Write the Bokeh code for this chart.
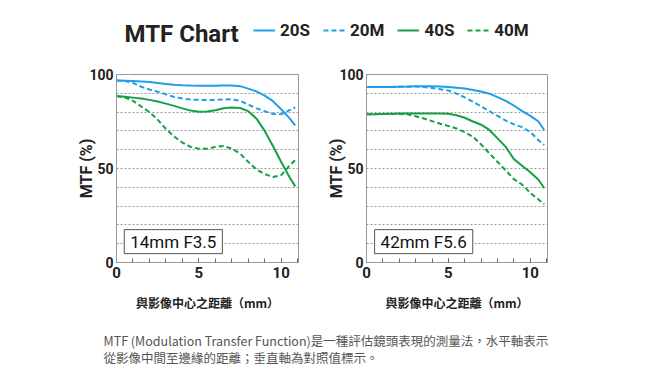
from bokeh.plotting import figure
from bokeh.models import (Range1d, FixedTicker, SingleIntervalTicker, Label,
                          Legend, LegendItem, ColumnDataSource)
from bokeh.layouts import column, row
from bokeh.embed import file_html
from bokeh.resources import INLINE

# ---------------- data ----------------
xs = [0, 0.5, 1, 1.5, 2, 2.5, 3, 3.5, 4, 4.5, 5, 5.5, 6, 6.5, 7, 7.5, 8, 8.5,
      9, 9.5, 10, 10.5, 10.85]

# 14mm F3.5
w_20s = [96.8, 96.7, 96.5, 96.3, 96.0, 95.5, 95.0, 94.6, 94.3, 94.1, 94.0, 94.0,
         94.0, 94.1, 94.2, 93.8, 92.5, 91.0, 88.8, 85.8, 81.5, 76.8, 73.0]
w_20m = [96.8, 96.5, 95.5, 93.5, 92.0, 90.8, 89.5, 88.0, 87.2, 86.7, 86.5, 86.4,
         86.5, 86.7, 86.8, 86.0, 84.0, 82.0, 80.5, 79.0, 78.8, 81.0, 82.5]
w_40s = [88.5, 88.2, 87.7, 87.2, 86.5, 85.6, 84.5, 83.3, 82.0, 80.8, 80.2, 80.3,
         81.0, 82.0, 82.4, 82.2, 80.5, 76.5, 70.0, 62.0, 53.5, 45.5, 40.5]
w_40m = [88.5, 87.8, 86.0, 83.0, 80.0, 76.0, 71.0, 67.0, 63.8, 61.5, 60.5, 60.5,
         61.5, 62.0, 60.5, 58.0, 53.5, 49.5, 47.0, 45.5, 46.5, 51.5, 54.5]

# 42mm F5.6
t_20s = [93.4, 93.4, 93.4, 93.4, 93.5, 93.6, 93.8, 93.8, 93.8, 93.6, 93.4, 93.0,
         92.5, 91.8, 91.0, 89.8, 88.0, 86.0, 83.5, 80.5, 78.0, 75.0, 70.5]
t_20m = [93.4, 93.4, 93.4, 93.4, 93.5, 93.5, 93.6, 93.3, 92.8, 92.2, 91.5, 89.8,
         87.8, 85.5, 83.0, 80.5, 78.0, 75.5, 73.5, 72.0, 69.5, 65.0, 62.5]
t_40s = [78.8, 78.9, 79.0, 79.1, 79.2, 79.3, 79.3, 79.3, 79.3, 79.2, 79.1, 78.3,
         77.0, 75.0, 73.3, 70.5, 66.0, 61.5, 55.0, 51.5, 48.0, 44.0, 39.5]
t_40m = [78.8, 78.9, 79.0, 79.0, 79.0, 78.8, 77.8, 76.6, 75.2, 73.8, 72.6, 71.3,
         69.3, 66.9, 62.8, 58.1, 53.5, 49.0, 44.3, 41.5, 37.0, 33.5, 31.0]

series_names = ["20S", "20M", "40S", "40M"]
lens_labels = ["14mm F3.5", "42mm F5.6"]
y_ticks = [0, 50, 100]
grid_ticks = [10, 20, 30, 40, 50, 60, 70, 80, 90]

title_text = "MTF Chart"
x_title = "與影像中心之距離（mm）"
y_title = "MTF (%)"
note_lines = ["MTF (Modulation Transfer Function)是一種評估鏡頭表現的測量法，水平軸表示",
              "從影像中間至邊緣的距離；垂直軸為對照值標示。"]

BLUE = "#1fa0e6"
GREEN = "#16a046"
DASH = "5 3"
styles = [(BLUE, "solid"), (BLUE, DASH), (GREEN, "solid"), (GREEN, DASH)]
GRAY = "#999999"
DARK = "#222222"


def make_panel(width, left, right, series, lens_label, label_x):
    p = figure(width=width, height=257, x_range=Range1d(0, 11.05),
               y_range=Range1d(0, 100), output_backend="svg",
               toolbar_location=None, min_border_left=left,
               min_border_right=right, min_border_top=11, min_border_bottom=58)
    p.outline_line_color = GRAY
    p.background_fill_color = "white"
    p.xgrid.visible = False
    p.ygrid.ticker = FixedTicker(ticks=grid_ticks)
    p.ygrid.grid_line_color = GRAY
    p.ygrid.grid_line_dash = "2 2"
    p.ygrid.grid_line_width = 1

    xa = p.xaxis[0]
    xa.ticker = SingleIntervalTicker(interval=5, num_minor_ticks=5)
    xa.axis_line_color = GRAY
    xa.major_tick_in = 4
    xa.major_tick_out = 0
    xa.minor_tick_in = 4
    xa.minor_tick_out = 0
    xa.major_tick_line_color = "#666666"
    xa.minor_tick_line_color = "#666666"
    xa.major_label_text_font = "Roboto"
    xa.major_label_text_font_style = "bold"
    xa.major_label_text_font_size = "15px"
    xa.major_label_text_color = DARK
    xa.major_label_standoff = 4
    xa.axis_label = x_title
    xa.axis_label_text_font = "Noto Sans CJK TC"
    xa.axis_label_text_font_style = "bold"
    xa.axis_label_text_font_size = "12px"
    xa.axis_label_text_color = DARK
    xa.axis_label_standoff = 13

    ya = p.yaxis[0]
    ya.ticker = FixedTicker(ticks=y_ticks)
    ya.axis_line_color = GRAY
    ya.major_tick_in = 0
    ya.major_tick_out = 0
    ya.minor_tick_in = 0
    ya.minor_tick_out = 0
    ya.major_label_text_font = "Roboto"
    ya.major_label_text_font_style = "bold"
    ya.major_label_text_font_size = "14px"
    ya.major_label_text_color = DARK
    ya.major_label_standoff = 3
    ya.axis_label = y_title
    ya.axis_label_text_font = "Roboto"
    ya.axis_label_text_font_style = "bold"
    ya.axis_label_text_font_size = "16px"
    ya.axis_label_text_color = DARK
    ya.axis_label_standoff = -10

    for ys, (c, d) in zip(series, styles):
        p.line(xs, ys, line_color=c, line_dash=d, line_width=2)

    p.add_layout(Label(x=label_x, y=11.1, text=lens_label, text_align="center",
                       text_baseline="middle", text_font="Roboto",
                       text_font_size="17px", text_color="#111111",
                       background_fill_color="white",
                       border_line_color="#555555", border_line_width=1,
                       padding=(6, 2)))
    return p


pl = make_panel(310, 116, 12, [w_20s, w_20m, w_40s, w_40m], lens_labels[0], 3.45)
pr = make_panel(332, 56, 95, [t_20s, t_20m, t_40s, t_40m], lens_labels[1], 3.49)

# header: title + legend
h = figure(width=642, height=63, x_range=Range1d(0, 642), y_range=Range1d(0, 63),
           output_backend="svg", toolbar_location=None, min_border=0,
           x_axis_type=None, y_axis_type=None)
h.grid.visible = False
h.outline_line_color = None
# off-range placeholder source: only used so the legend can draw its samples
dummy = ColumnDataSource(dict(x=[-10, -9], y=[-10, -10]))
rs = [h.line("x", "y", source=dummy, line_color=c, line_dash=d, line_width=2)
      for c, d in styles]
legend = Legend(items=[LegendItem(label=n, renderers=[r]) for n, r in zip(series_names, rs)],
                orientation="horizontal", location=(253, 23),
                glyph_width=22, glyph_height=20, label_height=20,
                label_standoff=5, spacing=13, padding=0, margin=0,
                border_line_color=None, background_fill_alpha=0,
                label_text_font="Roboto", label_text_font_style="bold",
                label_text_font_size="17px", label_text_color=DARK)
h.add_layout(legend)
h.add_layout(Label(x=124, y=30, x_units="screen", y_units="screen", text=title_text,
                   text_font="Roboto", text_font_style="bold", text_font_size="24px",
                   text_baseline="middle", text_color=DARK))

# footer note
f = figure(width=642, height=56, x_range=Range1d(0, 642), y_range=Range1d(0, 56),
           output_backend="svg", toolbar_location=None, min_border=0,
           x_axis_type=None, y_axis_type=None)
f.grid.visible = False
f.outline_line_color = None
for i, line in enumerate(note_lines):
    f.add_layout(Label(x=103, y=36 - 17 * i, x_units="screen", y_units="screen",
                       text=line, text_font="Noto Sans CJK TC",
                       text_font_size="12.5px", text_baseline="middle",
                       text_color="#555555"))

layout = column(h, row(pl, pr), f)
open("out.html", "w").write(file_html(layout, INLINE))
